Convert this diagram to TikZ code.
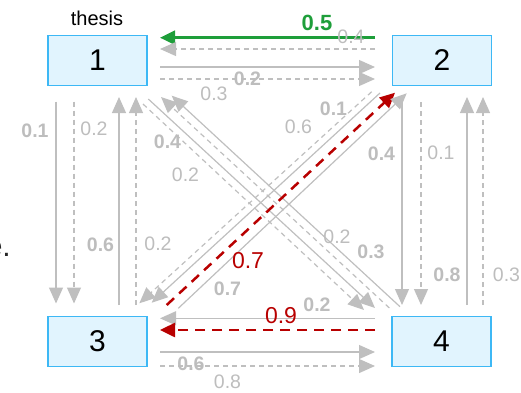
\documentclass[tikz,border=0pt]{standalone}
\usepackage{fontspec}
\setmainfont{Liberation Sans}
\usetikzlibrary{arrows.meta,calc}
\definecolor{boxfill}{HTML}{E1F4FE}
\definecolor{boxline}{HTML}{3DB8F5}
\definecolor{lg}{HTML}{BFBFBF}
\definecolor{labg}{HTML}{BDBDBD}
\definecolor{grn}{HTML}{1E9E3A}
\definecolor{rd}{HTML}{B80000}
\begin{document}
\begin{tikzpicture}[x=1pt,y=-1pt,
  state/.style={draw=boxline, fill=boxfill, line width=1.3pt, minimum width=99pt, minimum height=50pt, inner sep=0pt, outer sep=0pt, font=\fontsize{30}{30}\selectfont},
  sl/.style={draw=lg, line width=1.2pt, -{Triangle[length=16pt,width=14pt]}},
  dl/.style={sl, dash pattern=on 5pt off 4pt},
  gl/.style={draw=grn, line width=2.5pt, -{Triangle[length=15pt,width=14pt]}},
  rl/.style={draw=rd, line width=2.5pt, dash pattern=on 10pt off 7pt, -{Triangle[length=15pt,width=14pt]}},
  lab/.style={text=labg, font=\fontsize{19.5}{20}\selectfont, anchor=base, inner sep=0pt},
  blab/.style={text=labg, font=\bfseries\fontsize{19.5}{20}\selectfont, anchor=base, inner sep=0pt},
  glab/.style={text=grn, font=\bfseries\fontsize{22}{22}\selectfont, anchor=base, inner sep=0pt},
  rlab/.style={text=rd, font=\fontsize{23}{23}\selectfont, anchor=base, inner sep=0pt}
]
\useasboundingbox (0,0) rectangle (521,392);

\node[state] (n1) at (97.5,60.5) {1};
\node[state] (n2) at (442,60.5) {2};
\node[state] (n3) at (97.5,341.5) {3};
\node[state] (n4) at (441.5,341.5) {4};
\node[anchor=base, inner sep=0pt, font=\fontsize{20}{20}\selectfont] (title) at (97,25) {thesis};
\node[anchor=base east, inner sep=0pt, text=black!85, font=\fontsize{30}{30}\selectfont] (frag) at (11,256) {e.};

% top: 1 <-> 2
\draw[gl] ($(n2.west)+(-17.5,-22.8)$) -- ($(n1.east)+(13,-22.8)$);
\draw[dl] ($(n2.west)+(-17.5,-11.5)$) -- ($(n1.east)+(13,-11.5)$);
\draw[sl] ($(n1.east)+(13,6.5)$) -- ($(n2.west)+(-17.5,6.5)$);
\draw[dl] ($(n1.east)+(13,18.5)$) -- ($(n2.west)+(-17.5,18.5)$);

% bottom: 3 <-> 4
\draw[sl] ($(n4.west)+(-17,-23.2)$) -- ($(n3.east)+(13,-23.2)$);
\draw[rl] ($(n4.west)+(-17,-11.5)$) -- ($(n3.east)+(13,-11.5)$);
\draw[sl] ($(n3.east)+(13,10.5)$) -- ($(n4.west)+(-17,10.5)$);
\draw[dl] ($(n3.east)+(13,24.5)$) -- ($(n4.west)+(-17,24.5)$);

% left: 1 <-> 3
\draw[sl] ($(n1.south)+(-41.5,16)$) -- ($(n3.north)+(-41.5,-13)$);
\draw[dl] ($(n1.south)+(-23.5,16)$) -- ($(n3.north)+(-23.5,-13)$);
\draw[sl] ($(n3.north)+(21.5,-11.5)$) -- ($(n1.south)+(21.5,11.5)$);
\draw[dl] ($(n3.north)+(38.5,-11.5)$) -- ($(n1.south)+(38.5,11.5)$);

% right: 2 <-> 4
\draw[sl] ($(n2.south)+(-40,14.5)$) -- ($(n4.north)+(-39.5,-11.5)$);
\draw[dl] ($(n2.south)+(-21,16.5)$) -- ($(n4.north)+(-20.5,-11.5)$);
\draw[sl] ($(n4.north)+(25.5,-11.5)$) -- ($(n2.south)+(25,11.5)$);
\draw[dl] ($(n4.north)+(41.5,-11.5)$) -- ($(n2.south)+(41,11.5)$);

% diagonal 1 <-> 4
\draw[dl] ($(n1.south east)+(-4,18.5)$) -- ($(n4.north west)+(-28,-6.5)$);
\draw[sl] ($(n1.south east)+(1.3,13.5)$) -- ($(n4.north west)+(-17,-8.5)$);
\draw[dl] ($(n4.north west)+(-2.6,-8.5)$) -- ($(n1.south east)+(14,11.5)$);
\draw[sl] ($(n4.north west)+(8,-9.8)$) -- ($(n1.south east)+(24.7,10.2)$);

% diagonal 2 <-> 3
\draw[dl] ($(n2.south west)+(-20.8,6.2)$) -- ($(n3.north east)+(-7.7,-13.2)$);
\draw[sl] ($(n2.south west)+(-12.5,7.5)$) -- ($(n3.north east)+(4.7,-13.8)$);
\draw[rl] ($(n3.north east)+(19.7,-11.5)$) -- ($(n2.south west)+(2.5,7.2)$);
\draw[sl] ($(n3.north east)+(31.3,-8.2)$) -- ($(n2.south west)+(14.2,7.8)$);

% labels top
\node[glab] (l21s) at (317,30) {0.5};
\node[lab]  (l21d) at (351,43.3) {0.4};
\node[blab] (l12s) at (247.5,85) {0.2};
\node[lab]  (l12d) at (214,100) {0.3};
% labels bottom
\node[blab] (l43s) at (317,311.7) {0.2};
\node[rlab] (l43d) at (281,323.3) {0.9};
\node[blab] (l34s) at (191,370) {0.6};
\node[lab]  (l34d) at (227.5,388.3) {0.8};
% labels left
\node[blab] (l13s) at (35,137) {0.1};
\node[lab]  (l13d) at (94,135) {0.2};
\node[blab] (l31s) at (100.5,251.7) {0.6};
\node[lab]  (l31d) at (158,250.7) {0.2};
% labels right
\node[blab] (l24s) at (381.5,160) {0.4};
\node[lab]  (l24d) at (441,159) {0.1};
\node[blab] (l42s) at (447,281.7) {0.8};
\node[lab]  (l42d) at (506.5,281.7) {0.3};
% labels diagonal 1-4
\node[blab] (l14s) at (167.5,148) {0.4};
\node[lab]  (l14d) at (185.5,181.7) {0.2};
\node[lab]  (l41d) at (337,243.3) {0.2};
\node[blab] (l41s) at (371,258.3) {0.3};
% labels diagonal 2-3
\node[blab] (l23s) at (333.5,115) {0.1};
\node[lab]  (l23d) at (298.5,133) {0.6};
\node[rlab] (l32d) at (248,268.3) {0.7};
\node[blab] (l32s) at (227.5,295) {0.7};
\end{tikzpicture}
\end{document}
